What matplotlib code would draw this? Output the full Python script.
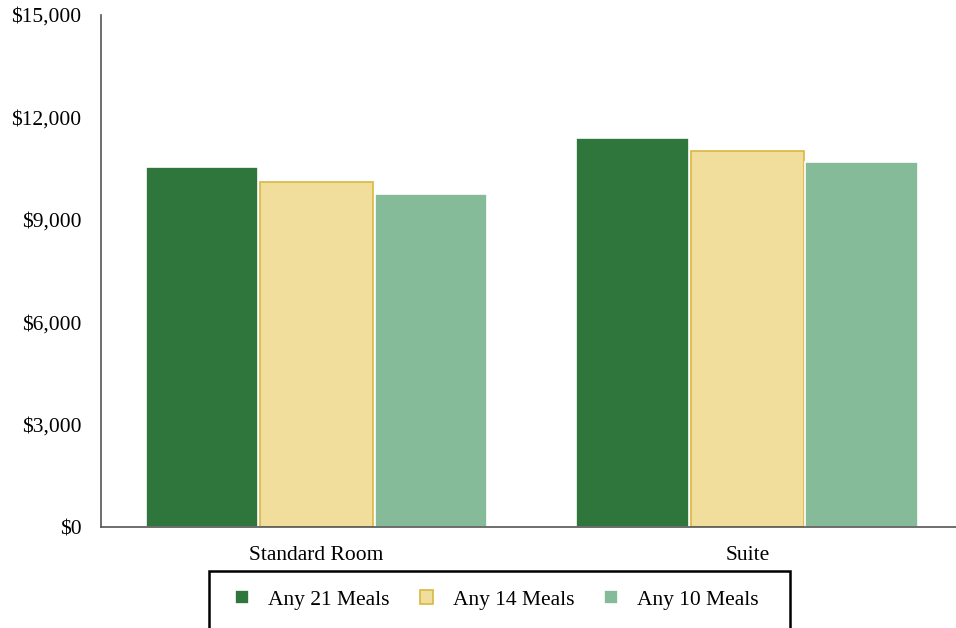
import numpy as np
import matplotlib.pyplot as plt
from matplotlib.patches import Rectangle

categories = ["Standard Room", "Suite"]
series = ["Any 21 Meals", "Any 14 Meals", "Any 10 Meals"]
any21 = [10560, 11410]
any14 = [10120, 11030]
any10 = [9770, 10680]

colors = ["#2E763C", "#F1DE9D", "#86BB9A"]
edges = ["white", "#D9B740", "white"]

plt.rcParams['font.family'] = ['Liberation Serif', 'DejaVu Serif']

fig = plt.figure(figsize=(9.56, 6.28), dpi=100)
ax = fig.add_axes([101/956, 1-527/628, 1-101/956, (527-15)/628])

x = np.arange(len(categories))
w = 0.262
step = 0.2657
for i, (vals, name) in enumerate(zip([any21, any14, any10], series)):
    ax.bar(x + (i-1)*step, vals, w, color=colors[i], edgecolor=edges[i],
           linewidth=1.2, label=name, zorder=2)

ax.set_xlim(-0.5, 1.484)
ax.set_ylim(0, 15000)
ax.set_yticks(np.arange(0, 15001, 3000))
ax.set_yticklabels(["${:,}".format(v) for v in range(0, 15001, 3000)])
ax.set_xticks(x)
ax.set_xticklabels(categories)
ax.tick_params(axis='y', length=0, pad=14, labelsize=15.5)
ax.tick_params(axis='x', length=0, pad=14, labelsize=15.5)
for s in ['top', 'right']:
    ax.spines[s].set_visible(False)
for s in ['left', 'bottom']:
    ax.spines[s].set_color('#555555')
    ax.spines[s].set_linewidth(1.2)

# legend box, runs off the bottom edge like the original
fig.patches.append(Rectangle((209/956, -0.01), (790-209)/956, 1-571/628+0.01,
                             transform=fig.transFigure, fill=False,
                             edgecolor='black', linewidth=1.8))
leg = fig.legend(loc='center', bbox_to_anchor=(497/956, 1-600/628), ncol=3,
                 fontsize=15.5, frameon=False,
                 handlelength=0.62, handleheight=0.62, handletextpad=0.9,
                 columnspacing=1.4, borderaxespad=0, borderpad=0)

fig.savefig("out.png", dpi=100)
